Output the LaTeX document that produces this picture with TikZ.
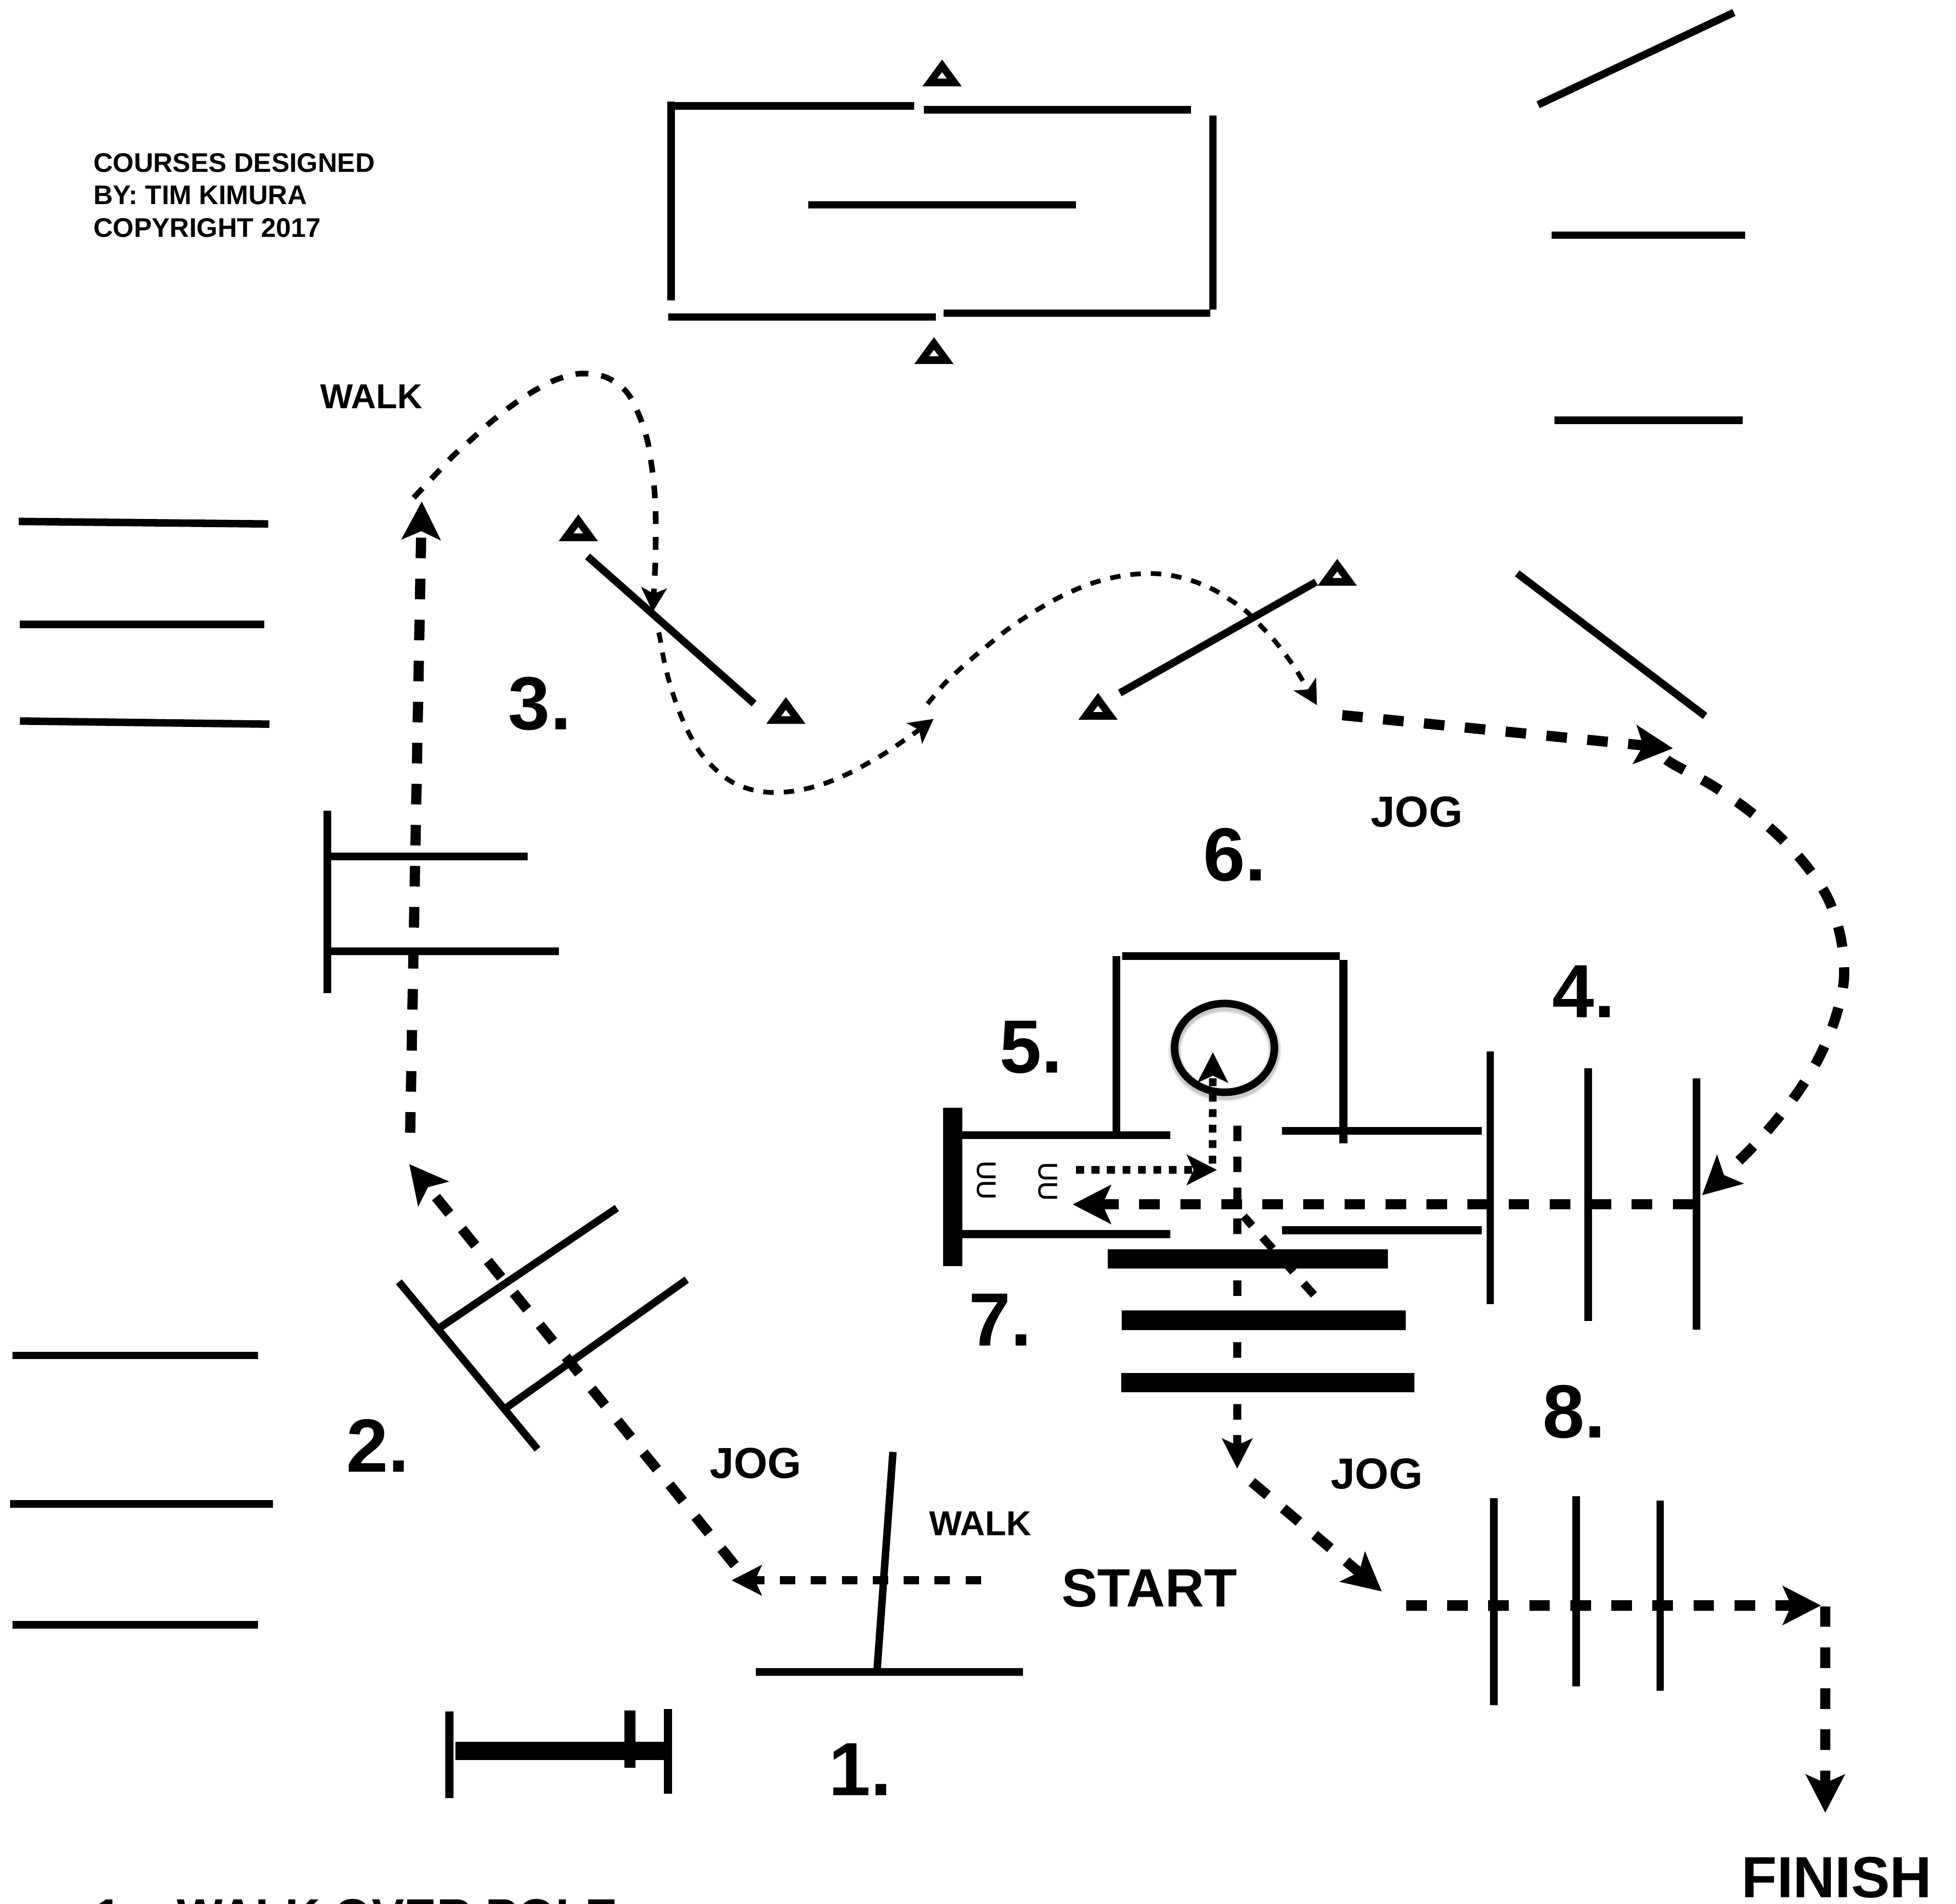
\documentclass[tikz,border=0pt]{standalone}
\usepackage{fontspec}
\setmainfont{Liberation Sans}
\usetikzlibrary{arrows.meta}
\tikzset{
  pole/.style={line width=0.6mm},
  heavypole/.style={line width=1.55mm},
  bigtip/.tip={Stealth[length=3.1mm,width=3.2mm,inset=0.72mm,line width=0pt]},
  midtip/.tip={Stealth[length=2.45mm,width=2.5mm,inset=0.58mm,line width=0pt]},
  smalltip/.tip={Stealth[length=1.95mm,width=2.1mm,inset=0.5mm,line width=0pt]},
  trot/.style={line width=0.82mm,dash pattern=on 1.65mm off 1.64mm,-{bigtip}},
  jog/.style={line width=0.65mm,dash pattern=on 1.24mm off 1.24mm,-{midtip}},
  dots/.style={line width=0.6mm,dash pattern=on 0.63mm off 0.61mm,-{midtip}},
  walka/.style={line width=0.45mm,dash pattern=on 1.03mm off 1.04mm,-{smalltip}},
  walkb/.style={line width=0.38mm,dash pattern=on 0.84mm off 0.8mm,-{smalltip}},
  lbl/.style={anchor=base west,inner sep=0pt,outer sep=0pt,font=\bfseries},
  num/.style={lbl,font=\bfseries\fontsize{17.2pt}{20pt}\selectfont},
  jogtxt/.style={lbl,font=\bfseries\fontsize{9.9pt}{12pt}\selectfont},
  walktxt/.style={lbl,font=\bfseries\fontsize{7.9pt}{10pt}\selectfont},
  credit/.style={lbl,font=\bfseries\fontsize{6.14pt}{8pt}\selectfont},
  bigtxt/.style={lbl,font=\bfseries\fontsize{12.3pt}{15pt}\selectfont},
  listtxt/.style={lbl,font=\bfseries\fontsize{11.1pt}{14pt}\selectfont},
  stirrup/.style={inner sep=0pt,outer sep=0pt,rotate=-90,font=\fontsize{6.1pt}{8pt}\selectfont\addfontfeature{FakeBold=1}},
  cone/.pic={
    \fill[even odd rule] (-15.75,0) -- (0,-21.5) -- (15.75,0) -- cycle
      (-3.9,-6.2) -- (0,-11.4) -- (3.9,-6.2) -- cycle;
  },
}
\begin{document}
\begin{tikzpicture}[x=0.1mm,y=-0.1mm]
\useasboundingbox (0,0) rectangle (1568,1526.3);
\clip (0,0) rectangle (1568,1526.3);
\fill[white] (0,0) rectangle (1568,1526.3);

% top arena
\draw[pole] (538,81.4) -- (538,240.7);
\draw[pole] (541,84.8) -- (732.7,84.8);
\draw[pole] (740.4,88) -- (954.8,88);
\draw[pole] (972.4,92.6) -- (972.4,248);
\draw[pole] (535.8,254.2) -- (750.2,254.2);
\draw[pole] (756.4,251) -- (970.2,251);
\draw[pole] (648,164.2) -- (862.5,164.2);
\pic at (755.2,69.2) {cone};
\pic at (748.7,291.8) {cone};

% outer lines, top right
\draw[pole] (1233,84) -- (1390,10);
\draw[pole] (1244,188.5) -- (1399,188.5);
\draw[pole] (1246,337) -- (1397,337);
\draw[pole] (1216.2,459.6) -- (1366.9,574);

% outer lines, left
\draw[pole] (15,418) -- (215,420);
\draw[pole] (16,500.5) -- (212,500.5);
\draw[pole] (16,578) -- (216,580.5);
\draw[pole] (10,1086.5) -- (207,1086.5);
\draw[pole] (8,1205.5) -- (219,1205.5);
\draw[pole] (10,1302.5) -- (207,1302.5);

% serpentine cones and poles
\draw[pole] (471,446) -- (604.5,564);
\pic at (463.6,433.8) {cone};
\pic at (630,580.3) {cone};
\draw[pole] (897.7,555.5) -- (1055,466.5);
\pic at (880.2,577) {cone};
\pic at (1072,469.5) {cone};

% obstacle at the left
\draw[pole] (262.5,650) -- (262.5,796);
\draw[pole] (262.5,686.5) -- (423,686.5);
\draw[pole] (262.5,762.5) -- (448,762.5);

% obstacle 2
\draw[pole] (319.7,1027.5) -- (430.9,1161.7);
\draw[pole] (350,1066) -- (494.5,968.4);
\draw[pole] (406.3,1128.2) -- (550.5,1025.8);

% obstacle 1
\draw[pole] (715.8,1163.9) -- (703,1340);
\draw[pole] (606,1340.3) -- (820,1340.3);

% H
\draw[pole,line width=0.65mm] (360.3,1372) -- (360.3,1441.4);
\draw[pole,line width=0.65mm] (535.5,1370) -- (535.5,1437.8);
\draw[pole,line width=0.9mm] (505,1371) -- (505,1417);
\draw[line width=1.45mm] (365,1403.5) -- (535,1403.5);

% centre obstacle 5
\draw[heavypole] (763.8,887.9) -- (763.8,1015);
\draw[line width=0.62mm] (771,910) -- (938,910);
\draw[line width=0.62mm] (771,989.3) -- (938,989.3);
\draw[line width=0.62mm] (895,766.5) -- (895,913);
\draw[line width=0.62mm] (899.7,766.5) -- (1074,766.5);
\draw[line width=0.62mm] (1076.9,769.7) -- (1076.9,916.7);
\draw[line width=0.62mm] (1027.7,906.5) -- (1188,906.5);
\draw[line width=0.62mm] (1027.7,986.2) -- (1188,986.2);

% circle with soft shadow
\foreach \w/\o in {1.1mm/0.05,0.95mm/0.07,0.8mm/0.1}{
  \draw[line width=\w,opacity=\o] (981.8,842) ellipse [x radius=40,y radius=35.6];
}
\draw[line width=0.6mm] (981.6,840) ellipse [x radius=40,y radius=35.6];

% stirrups
\node[stirrup] (su1) at (790.5,946) {UU};
\node[stirrup] (su2) at (839.8,947) {UU};

% bars 7
\draw[heavypole] (888,1009.2) -- (1112.5,1009.2);
\draw[heavypole] (899,1058.4) -- (1127,1058.4);
\draw[heavypole] (898.7,1108.5) -- (1134,1108.5);

% obstacle 4
\draw[line width=0.6mm] (1194.7,843) -- (1194.7,1045.4);
\draw[line width=0.6mm] (1273.2,856.5) -- (1273.2,1059);
\draw[line width=0.6mm] (1360,864.3) -- (1360,1066);

% obstacle 8
\draw[line width=0.6mm] (1197.5,1200.8) -- (1197.5,1366.8);
\draw[line width=0.6mm] (1263.6,1199.3) -- (1263.6,1352);
\draw[line width=0.6mm] (1330.8,1202.8) -- (1330.8,1355.5);

% route coordinates
\coordinate (walkstart) at (786.4,1266.8);
\coordinate (walkend) at (586.5,1266.8);
\coordinate (jogstart) at (589,1254.6);
\coordinate (jogend) at (328.1,933.2);
\coordinate (upstart) at (328.8,908);
\coordinate (upend) at (338.1,402);
\coordinate (tjogstart) at (1076,573.3);
\coordinate (tjogend) at (1341,599.9);
\coordinate (backstart) at (1357.4,965.5);
\coordinate (backend) at (860,965.5);
\coordinate (dotAstart) at (862.6,937.8);
\coordinate (dotAend) at (975.5,937.8);
\coordinate (dotBstart) at (972,932.7);
\coordinate (dotBend) at (972.3,843.6);
\coordinate (downstart) at (991.9,902.4);
\coordinate (downend) at (991.8,1177.3);
\coordinate (diagA) at (1053.3,1038);
\coordinate (diagB) at (997,975);
\coordinate (outstart) at (1003.5,1188);
\coordinate (outend) at (1107.6,1275.7);
\coordinate (lastA) at (1127.2,1287);
\coordinate (lastB) at (1459.7,1287);
\coordinate (finA) at (1463.2,1287.7);
\coordinate (finB) at (1463.2,1453.1);

% routes
\draw[jog] (walkstart) -- (walkend);
\draw[trot,dash pattern=on 1.7mm off 1.6mm] (jogstart) -- (jogend);
\draw[trot] (upstart) -- (upend);
\draw[walka] plot[smooth,tension=0.55] coordinates {(331.6,399) (349,380.5) (363.7,365) (378.5,351.7) (394,337.9) (410,325.3) (427.3,313.8) (445.9,304.3) (465,299.5) (485.8,302.4) (502.2,314.1) (512,332.2) (518.7,352) (522.3,372.7) (524.6,392.9) (525.6,413.2) (525.6,433.9) (525.2,454.6) (523.2,490.4)};
\draw[walkb] plot[smooth,tension=0.55] coordinates {(528,507) (529.1,511.7) (532,528) (535.8,543.9) (540.7,559.9) (546.3,574.9) (553.5,590.1) (561.8,603.9) (573.2,616.4) (585.7,626.2) (601,632.6) (617.2,635.2) (633.7,634.5) (649.9,631.4) (665.2,626.6) (680.5,619.9) (695.2,612.1) (709.3,603.9) (723,594.7) (734.6,586.6) (748.4,576.3)};
\draw[walkb] plot[smooth,tension=0.55] coordinates {(743.6,564.2) (756.7,548.5) (768.5,537.3) (780.6,526.6) (793.1,516.3) (805.4,506.3) (818.7,496.9) (832.5,488.2) (846.5,480.2) (861.3,473.1) (876.5,467.2) (892.5,462.9) (908.5,460.4) (925.3,459.8) (941.5,461.8) (957.3,466.1) (972.5,472.5) (986.3,480.9) (998.6,489.7) (1010.7,501.7) (1021.8,513.7) (1031.6,526.3) (1040.5,539.3) (1055.7,565.2)};
\draw[trot] (tjogstart) -- (tjogend);
\draw[trot] plot[smooth,tension=0.55] coordinates {(1335.9,609) (1343.2,613.6) (1372.2,629.4) (1399.4,647.9) (1424.7,669) (1447.2,693) (1465.2,719.9) (1475.5,751.3) (1478.2,784.5) (1471.1,816.7) (1458.4,847.3) (1441.6,875) (1421.5,900.9) (1399.4,925.2) (1364.5,958.1)};
\draw[trot] (backstart) -- (backend);
\draw[dots] (dotAstart) -- (dotAend);
\draw[dots] (dotBstart) -- (dotBend);
\draw[jog] (downstart) -- (downend);
\draw[jog,-] (diagA) -- (diagB);
\draw[trot] (outstart) -- (outend);
\draw[trot] (lastA) -- (lastB);
\draw[trot] (finA) -- (finB);

% labels
\node[credit] (c1) at (75,138) {COURSES DESIGNED};
\node[credit] (c2) at (75,164) {BY: TIM KIMURA};
\node[credit] (c3) at (75,190) {COPYRIGHT 2017};
\node[walktxt] (w1) at (257,327.6) {WALK};
\node[walktxt] (w2) at (745,1231) {WALK};
\node[jogtxt] (j1) at (569,1185) {JOG};
\node[jogtxt] (j2) at (1099,662.7) {JOG};
\node[jogtxt] (j3) at (1067,1193.5) {JOG};
\node[bigtxt] (st) at (851,1288) {START};
\node[lbl,font=\bfseries\fontsize{13.25pt}{16pt}\selectfont] (fi) at (1396,1520.9) {FINISH};
\node[num] (n1) at (664.5,1439.3) {1.};
\node[num] (n2) at (277.5,1180) {2.};
\node[num] (n3) at (407.5,585) {3.};
\node[num] (n4) at (1244.5,815.5) {4.};
\node[num] (n5) at (801.5,860) {5.};
\node[num] (n6) at (964.5,706) {6.};
\node[num] (n7) at (776.5,1079) {7.};
\node[num] (n8) at (1236.5,1152.5) {8.};
\node[listtxt] (li1) at (76,1549.5) {1.};
\node[listtxt] (li2) at (142,1549.5) {WALK OVER POLE};
\end{tikzpicture}
\end{document}
